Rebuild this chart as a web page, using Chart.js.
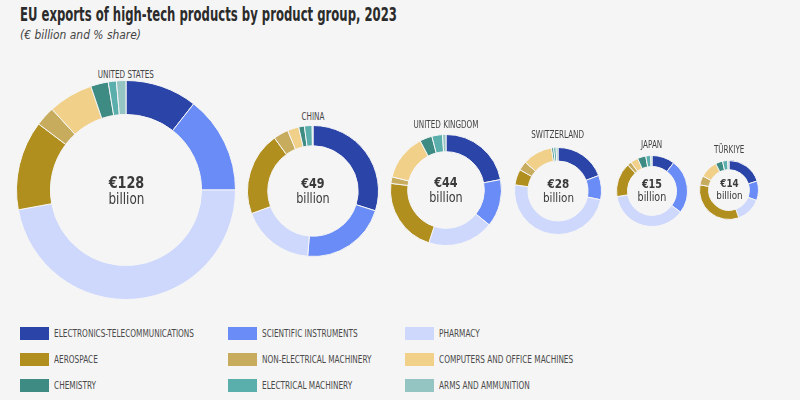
<!DOCTYPE html>
<html>
<head>
<meta charset="utf-8">
<script src="https://cdn.jsdelivr.net/npm/chart.js@4/dist/chart.umd.min.js"></script>
<style>
  html, body { margin: 0; padding: 0; background: #f5f5f5; }
  #wrap { position: relative; width: 800px; height: 400px; overflow: hidden; background: #f5f5f5;
          font-family: 'DejaVu Sans', sans-serif; color: #333; }
  .cond { display: inline-block; white-space: nowrap; transform-origin: 0 50%; }
  #title { position: absolute; left: 20px; top: 3px; font-size: 19px; font-weight: bold; color: #2b2b2b; white-space: nowrap; }
  #subtitle { position: absolute; left: 20px; top: 27px; font-size: 12.5px; font-style: italic; color: #444; white-space: nowrap; }
  .donut { position: absolute; }
  .donut canvas { display: block; }
  .clabel { position: absolute; font-size: 10px; color: #444; white-space: nowrap; }
  .ctext { position: absolute; text-align: center; color: #3a3a3a; white-space: nowrap; }
  .ctext div { white-space: nowrap; }
  .leg { position: absolute; font-size: 10px; color: #4a4a4a; white-space: nowrap; }
  .leg span.sw { position: absolute; left: 0; top: 0; width: 29px; height: 13px; }
  .leg span.tx { position: absolute; left: 34px; top: 0px; line-height: 13px; transform-origin: 0 50%; }
</style>
</head>
<body>
<div id="wrap">
  <div id="title"><span class="cond" id="titleText">EU exports of high-tech products by product group, 2023</span></div>
  <div id="subtitle"><span class="cond" id="subText">(€ billion and % share)</span></div>
</div>
<script>
// ---- data ----
const categories = [
  'ELECTRONICS-TELECOMMUNICATIONS', 'SCIENTIFIC INSTRUMENTS', 'PHARMACY',
  'AEROSPACE', 'NON-ELECTRICAL MACHINERY', 'COMPUTERS AND OFFICE MACHINES',
  'CHEMISTRY', 'ELECTRICAL MACHINERY', 'ARMS AND AMMUNITION'
];
const countries = ['UNITED STATES', 'CHINA', 'UNITED KINGDOM', 'SWITZERLAND', 'JAPAN', 'TÜRKIYE'];
const totals = [128, 49, 44, 28, 15, 14];
// % share per product group, in the category order above
const sharesUS = [10.6, 14.4, 47.1, 13.2, 2.9, 6.6, 2.6, 1.2, 1.4];
const sharesCN = [29.9, 21.4, 18.1, 20.6, 3.7, 2.8, 1.4, 1.9, 0.2];
const sharesUK = [22.0, 13.8, 19.2, 21.9, 1.9, 13.5, 3.6, 3.1, 1.0];
const sharesCH = [19.2, 9.0, 49.0, 5.8, 3.4, 11.1, 0.8, 0.9, 0.7];
const sharesJP = [10.4, 24.7, 37.3, 15.6, 1.9, 3.4, 3.8, 2.2, 0.6];
const sharesTR = [20.1, 10.7, 13.8, 33.2, 5.0, 9.8, 3.9, 2.8, 0.7];
const allShares = [sharesUS, sharesCN, sharesUK, sharesCH, sharesJP, sharesTR];

// ---- style / layout ----
const colors = ['#2a44a8', '#6a8cf6', '#cdd8fc', '#b08f1f', '#c8ac5e', '#f1d08a', '#3e8b83', '#5aaeab', '#95c5c2'];
const layout = [
  { cx: 126, cy: 190, r: 109, ly: 74,  big: 16, small: 15 },
  { cx: 313, cy: 191, r: 65,  ly: 116, big: 14, small: 14 },
  { cx: 446, cy: 190, r: 55,  ly: 124, big: 14, small: 14 },
  { cx: 558, cy: 191, r: 43,  ly: 134, big: 13, small: 13 },
  { cx: 652, cy: 191, r: 35,  ly: 144, big: 12, small: 12 },
  { cx: 729, cy: 190, r: 29,  ly: 149, big: 11, small: 11 }
];
const COND = 0.8; // horizontal condensing for centre texts

const wrap = document.getElementById('wrap');

function fitWidth(el, target) {
  const w = el.getBoundingClientRect().width;
  return target / w;
}

// title / subtitle condensing
const tt = document.getElementById('titleText');
tt.style.transform = 'scaleX(' + fitWidth(tt, 377) + ')';
const st = document.getElementById('subText');
st.style.transform = 'scaleX(' + fitWidth(st, 121) + ')';

let labelScale = null;
countries.forEach((name, i) => {
  const L = layout[i];
  const box = document.createElement('div');
  box.className = 'donut';
  const size = 2 * L.r + 2;
  box.style.left = (L.cx - size / 2) + 'px';
  box.style.top = (L.cy - size / 2) + 'px';
  box.style.width = size + 'px';
  box.style.height = size + 'px';
  const cv = document.createElement('canvas');
  box.appendChild(cv);
  wrap.appendChild(box);

  new Chart(cv, {
    type: 'doughnut',
    data: {
      labels: categories,
      datasets: [{
        data: allShares[i],
        backgroundColor: colors,
        borderColor: '#f5f5f5',
        borderWidth: 1
      }]
    },
    options: {
      responsive: true,
      maintainAspectRatio: false,
      animation: false,
      cutout: '69%',
      layout: { padding: 0 },
      plugins: { legend: { display: false }, tooltip: { enabled: false } }
    }
  });

  const lab = document.createElement('div');
  lab.className = 'clabel';
  lab.textContent = name;
  wrap.appendChild(lab);
  if (labelScale === null) labelScale = fitWidth(lab, 56);
  const lw = lab.getBoundingClientRect().width, lh = lab.getBoundingClientRect().height;
  lab.style.left = (L.cx - lw / 2) + 'px';
  lab.style.top = (L.ly - lh / 2) + 'px';
  lab.style.transformOrigin = '50% 50%';
  lab.style.transform = 'scaleX(' + labelScale + ')';

  const ct = document.createElement('div');
  ct.className = 'ctext';
  ct.innerHTML = '<div style="font-weight:bold;font-size:' + L.big + 'px;line-height:' + (L.big + 1) + 'px">€' + totals[i] + '</div>' +
                 '<div style="font-size:' + L.small + 'px;line-height:' + (L.small + 1) + 'px">billion</div>';
  wrap.appendChild(ct);
  const cw = ct.getBoundingClientRect().width, ch = ct.getBoundingClientRect().height;
  ct.style.left = (L.cx - cw / 2) + 'px';
  ct.style.top = (L.cy - ch / 2) + 'px';
  ct.style.transformOrigin = '50% 50%';
  ct.style.transform = 'scaleX(' + COND + ')';
});

// ---- legend ----
const legX = [20, 228, 405];
const legY = [327, 353, 379];
let legScale = null;
categories.forEach((c, k) => {
  const col = k % 3, row = Math.floor(k / 3);
  const d = document.createElement('div');
  d.className = 'leg';
  d.style.left = legX[col] + 'px';
  d.style.top = legY[row] + 'px';
  d.innerHTML = '<span class="sw" style="background:' + colors[k] + '"></span><span class="tx">' + c + '</span>';
  wrap.appendChild(d);
  const tx = d.querySelector('.tx');
  if (legScale === null) legScale = fitWidth(tx, 140);
  tx.style.transform = 'scaleX(' + legScale + ')';
});
</script>
</body>
</html>
